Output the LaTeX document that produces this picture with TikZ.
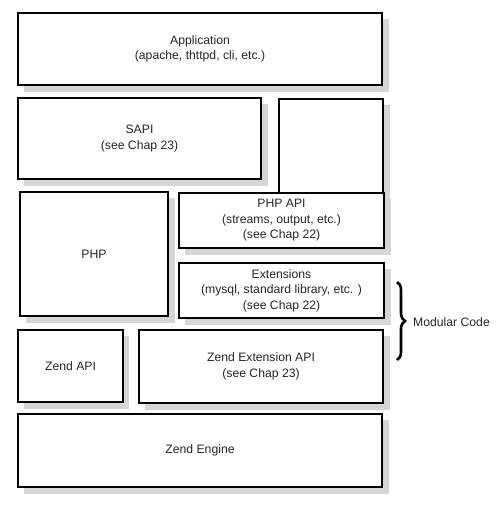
\documentclass[tikz,border=0pt]{standalone}
\usepackage{fontspec}
\setmainfont{Liberation Sans}
\usetikzlibrary{decorations.pathreplacing}
\definecolor{shadowgray}{HTML}{D6D6D6}
\begin{document}
\begin{tikzpicture}[x=1pt,y=-1pt,
  box/.style={draw=black, line width=1.6pt, fill=white, inner sep=0pt, outer sep=0pt,
    anchor=north west, align=center, font=\fontsize{12.2}{15.5}\selectfont, text=black!85},
  shade/.style={fill=shadowgray, draw=none}]
\useasboundingbox (0,0) rectangle (500,511);
% shadows
\fill[shade] (24,19) rectangle (389,92);
\fill[shade] (24,104) rectangle (268,186);
\fill[shade] (285,105) rectangle (390,199);
\fill[shade] (26,198) rectangle (175,323);
\fill[shade] (185,199) rectangle (391,255);
\fill[shade] (185,269) rectangle (391,325);
\fill[shade] (24,336) rectangle (129,409);
\fill[shade] (145,336) rectangle (390,410);
\fill[shade] (24,420) rectangle (389,494);
% boxes
\node[box, minimum width=364, minimum height=72] (app) at (18,13) {Application\\(apache, thttpd, cli, etc.)};
\node[box, minimum width=243, minimum height=81] (sapi) at (18,98) {SAPI\\(see Chap 23)};
\node[box, minimum width=104, minimum height=94] (tall) at (279,99) {};
\node[box, minimum width=148, minimum height=124] (php) at (20,192) {PHP};
\node[box, minimum width=205, minimum height=55] (phpapi) at (179,193) {PHP API\\(streams, output, etc.)\\(see Chap 22)};
\node[box, minimum width=205, minimum height=55] (ext) at (179,263) {Extensions\\(mysql, standard library, etc. )\\(see Chap 22)};
\node[box, minimum width=105, minimum height=72] (zapi) at (18,330) {Zend API};
\node[box, minimum width=244, minimum height=73] (zext) at (139,330) {Zend Extension API\\(see Chap 23)};
\node[box, minimum width=364, minimum height=73] (engine) at (18,414) {Zend Engine};
% brace
\coordinate (bt) at (397,282);
\coordinate (bb) at (397,360);
\draw[line width=2.6pt, decorate, decoration={brace, amplitude=8pt}] (bt) -- (bb);
\node[anchor=west, inner sep=0pt, font=\fontsize{12.2}{14}\selectfont, text=black!85] (mod) at (413,322) {Modular Code};
\end{tikzpicture}
\end{document}
